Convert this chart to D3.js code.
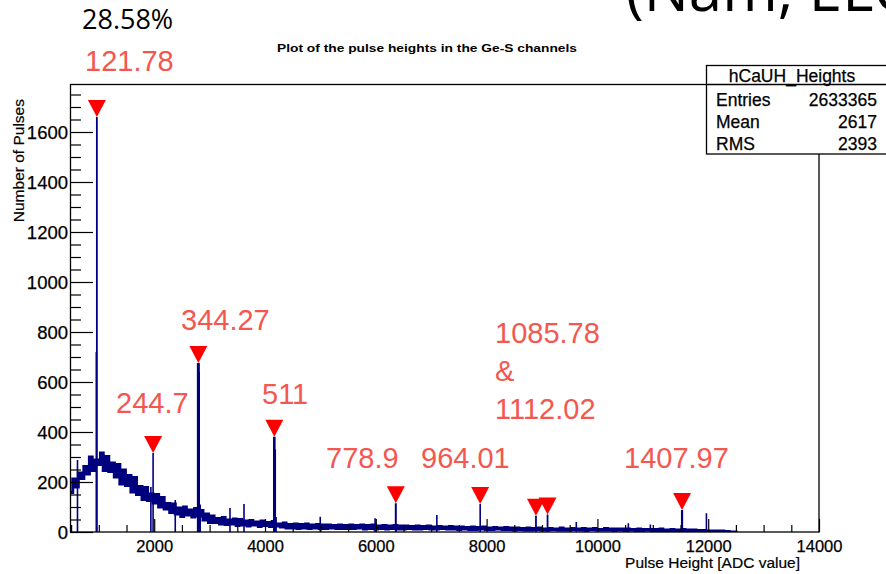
<!DOCTYPE html>
<html>
<head>
<meta charset="utf-8">
<script src="https://cdn.jsdelivr.net/npm/d3@7/dist/d3.min.js"></script>
<style>
  html, body { margin: 0; padding: 0; background: #fff; }
  svg { display: block; }
</style>
</head>
<body>
<svg id="chart" width="886" height="574"></svg>
<script>
// ---- Histogram data ------------------------------------------------------
// Continuum counts in 50-ADC bins, first bin starting at ADC 480
const binStart = 480;
const binWidth = 50;
const continuum = [
  158, 212, 180, 236, 214, 262, 232, 300, 246, 288, 270, 316, 246, 302, 242, 276, 220, 270, 192, 248,
  186, 226, 160, 218, 150, 182, 130, 178, 126, 152, 116, 150, 100, 138, 92, 114, 78, 112, 72, 96,
  62, 100, 68, 88, 60, 94, 64, 86, 48, 72, 38, 64, 38, 54, 32, 58, 30, 48, 32, 52,
  26, 50, 28, 44, 24, 46, 28, 40, 22, 44, 26, 38, 22, 42, 24, 32, 20, 36, 16, 30,
  16, 32, 14, 30, 16, 32, 14, 28, 16, 30, 14, 28, 14, 28, 16, 26, 14, 28, 14, 26,
  14, 28, 14, 26, 16, 28, 12, 26, 14, 28, 12, 24, 14, 26, 12, 24, 14, 26, 12, 24,
  12, 24, 14, 22, 12, 24, 12, 22, 14, 24, 12, 20, 12, 22, 14, 20, 12, 22, 12, 20,
  10, 20, 12, 18, 10, 20, 10, 18, 12, 20, 10, 16, 10, 18, 12, 16, 10, 18, 10, 16,
  8, 16, 10, 14, 8, 16, 8, 14, 10, 16, 8, 12, 8, 14, 10, 12, 8, 16, 8, 12,
  8, 14, 10, 12, 8, 14, 6, 12, 10, 14, 8, 10, 8, 14, 8, 12, 6, 12, 8, 12,
  6, 12, 8, 10, 4, 12, 6, 10, 8, 10, 4, 10, 6, 12, 4, 8, 6, 10, 4, 8,
  6, 10, 4, 8, 6, 8, 4, 6, 6, 4, 0, 4, 2, 4, 0, 4, 0, 2, 0, 0, 0
];

// Narrow line bins that stand out from the continuum (ADC, counts)
const lineAdc    = [615, 955, 1940, 2380, 2812, 2830, 3368, 3621, 4185, 4200, 4997, 5987, 7102, 9619, 10558, 10956, 11968];
const lineCounts = [288, 720, 180, 128, 640, 110, 96, 112, 330, 60, 61, 55, 68, 40, 35, 30, 75];

// Identified gamma lines: energy (keV) and peak bin (ADC, counts)
const peakEnergies = ["121.78", "244.7", "344.27", "511", "778.9", "964.01", "1085.78", "1112.02", "1407.97"];
const peakAdc      = [965, 1980, 2797, 4168, 6361, 7884, 8891, 9100, 11528];
const peakCounts   = [1660, 316, 676, 381, 115, 112, 65, 70, 88];

// Axes
const xMajorTicks = [2000, 4000, 6000, 8000, 10000, 12000, 14000];
const yMajorTicks = [0, 200, 400, 600, 800, 1000, 1200, 1400, 1600];

// Statistics box
const statsTitle = "hCaUH_Heights";
const statNames  = ["Entries", "Mean", "RMS"];
const statValues = ["2633365", "2617", "2393"];

// Texts
const plotTitle  = "Plot of the pulse heights in the Ge-S channels";
const xTitle     = "Pulse Height [ADC value]";
const yTitle     = "Number of Pulses";
const fraction   = "28.58%";
const heading    = "(Nam, ELC";

// ---- Layout ---------------------------------------------------------------
const W = 886, H = 574;
const frame = { left: 70, top: 85, right: 819, bottom: 532 };
const navy = "#00007f";
const salmon = "#f4574f";

// label anchors (left x, baseline y) for the energy annotations
const labelPos = [
  [85, 71], [116, 413], [181, 330], [262, 404], [326, 468], [421, 468],
  [495, 343], [495, 419], [624, 468]
];
// drawn width of each identified peak line
const peakStroke = [1.8, 1.6, 3, 2.6, 2, 1.6, 1.8, 1.8, 2.2];

const svg = d3.select("#chart");
svg.append("rect").attr("width", W).attr("height", H).attr("fill", "#fff");

const x = d3.scaleLinear().domain([480, 14000]).range([frame.left, frame.right]);
const y = d3.scaleLinear().domain([0, 1788]).range([frame.bottom, frame.top]);

svg.append("clipPath").attr("id", "plotclip")
  .append("rect")
  .attr("x", frame.left).attr("y", frame.top)
  .attr("width", frame.right - frame.left).attr("height", frame.bottom - frame.top);

const plot = svg.append("g").attr("clip-path", "url(#plotclip)");

// continuum as a step histogram; the stroke is wide enough that the
// bin-to-bin fluctuations merge into a solid band
const pts = continuum.map((v, i) => [binStart + i * binWidth, v]);
pts.push([binStart + continuum.length * binWidth, continuum[continuum.length - 1]]);
const stepLine = d3.line()
  .x(d => x(d[0]))
  .y(d => y(d[1]))
  .curve(d3.curveStepAfter);

plot.append("path")
  .attr("d", stepLine(pts))
  .attr("fill", "none")
  .attr("stroke", navy)
  .attr("stroke-width", 3)
  .attr("stroke-linejoin", "miter");

// narrow line bins
plot.selectAll("line.extra")
  .data(d3.zip(lineAdc, lineCounts))
  .join("line")
  .attr("class", "extra")
  .attr("x1", d => x(d[0])).attr("x2", d => x(d[0]))
  .attr("y1", y(0)).attr("y2", d => y(d[1]))
  .attr("stroke", navy).attr("stroke-width", 1.6);

// identified peaks
plot.selectAll("line.peak")
  .data(d3.zip(peakAdc, peakCounts))
  .join("line")
  .attr("class", "peak")
  .attr("x1", d => x(d[0])).attr("x2", d => x(d[0]))
  .attr("y1", y(0)).attr("y2", d => y(d[1]))
  .attr("stroke", navy).attr("stroke-width", (d, i) => peakStroke[i]);

// ---- Axes (ticks drawn inward) -------------------------------------------
const font = "'Liberation Sans', Arial, Helvetica, sans-serif";

const xMinor = d3.range(500, 14001, 500).filter(v => v % 2000 !== 0);
const gxMinor = svg.append("g")
  .attr("transform", `translate(0,${frame.bottom})`)
  .call(d3.axisBottom(x).tickValues(xMinor).tickSize(-7).tickFormat(""));
const gx = svg.append("g")
  .attr("transform", `translate(0,${frame.bottom})`)
  .call(d3.axisBottom(x).tickValues(xMajorTicks).tickSize(-13).tickFormat(d3.format("d")));
[gxMinor, gx].forEach(g => {
  g.select(".domain").remove();
  g.selectAll(".tick line").attr("stroke", "#000").attr("stroke-width", 1.2);
});
gx.selectAll(".tick text")
  .attr("y", 20).attr("dy", 0)
  .attr("font-family", font).attr("font-size", 16.5).attr("fill", "#000")
  .attr("stroke", "#000").attr("stroke-width", 0.25);

const yMinor = d3.range(50, 1788, 50).filter(v => v % 200 !== 0);
const gyMinor = svg.append("g")
  .attr("transform", `translate(${frame.left},0)`)
  .call(d3.axisLeft(y).tickValues(yMinor).tickSize(-11).tickFormat(""));
const gy = svg.append("g")
  .attr("transform", `translate(${frame.left},0)`)
  .call(d3.axisLeft(y).tickValues(yMajorTicks).tickSize(-23).tickFormat(d3.format("d")));
[gyMinor, gy].forEach(g => {
  g.select(".domain").remove();
  g.selectAll(".tick line").attr("stroke", "#000").attr("stroke-width", 1.2);
});
gy.selectAll(".tick text")
  .attr("x", -2).attr("dy", "0.36em")
  .attr("font-family", font).attr("font-size", 18.5).attr("fill", "#000")
  .attr("stroke", "#000").attr("stroke-width", 0.25);

// frame
svg.append("rect")
  .attr("x", frame.left + 0.5).attr("y", frame.top - 0.5)
  .attr("width", frame.right - frame.left - 0.5).attr("height", frame.bottom - frame.top + 0.5)
  .attr("fill", "none").attr("stroke", "#000").attr("stroke-width", 1.3);

// axis titles
svg.append("text")
  .attr("x", 800).attr("y", 568)
  .attr("text-anchor", "end")
  .attr("font-family", font).attr("font-size", 15.5)
  .attr("stroke", "#000").attr("stroke-width", 0.2)
  .text(xTitle);

svg.append("text")
  .attr("transform", "translate(24,99) rotate(-90)")
  .attr("text-anchor", "end")
  .attr("font-family", font).attr("font-size", 15.5)
  .attr("stroke", "#000").attr("stroke-width", 0.2)
  .text(yTitle);

// plot title
svg.append("text")
  .attr("x", 427).attr("y", 52)
  .attr("text-anchor", "middle")
  .attr("font-family", font).attr("font-size", 11.5).attr("font-weight", "bold")
  .attr("textLength", 300).attr("lengthAdjust", "spacingAndGlyphs")
  .text(plotTitle);

// ---- Peak markers and energy labels --------------------------------------
svg.selectAll("path.marker")
  .data(d3.zip(peakAdc, peakCounts))
  .join("path")
  .attr("class", "marker")
  .attr("d", "M-9,-17 L9,-17 L0,0 Z")
  .attr("transform", d => `translate(${x(d[0])},${y(d[1])})`)
  .attr("fill", "#ff0000");

svg.selectAll("text.energy")
  .data(peakEnergies.map((t, i) => ({ t, p: labelPos[i] })))
  .join("text")
  .attr("class", "energy")
  .attr("x", d => d.p[0]).attr("y", d => d.p[1])
  .attr("font-family", font).attr("font-size", 29)
  .attr("fill", salmon)
  .text(d => d.t);

svg.append("text")
  .attr("x", 495).attr("y", 381)
  .attr("font-family", font).attr("font-size", 29)
  .attr("fill", salmon)
  .text("&");

// ---- Statistics box ------------------------------------------------------
const box = svg.append("g");
box.append("rect")
  .attr("x", 706.5).attr("y", 65.5).attr("width", 200).attr("height", 88.5)
  .attr("fill", "#fff").attr("stroke", "#000").attr("stroke-width", 1.3);
box.append("line")
  .attr("x1", 706.5).attr("x2", 886).attr("y1", 84.5).attr("y2", 84.5)
  .attr("stroke", "#000").attr("stroke-width", 1.3);
const statFont = sel => sel
  .attr("font-family", font).attr("font-size", 17.5)
  .attr("stroke", "#000").attr("stroke-width", 0.25);
box.append("text")
  .attr("x", 792).attr("y", 82).attr("text-anchor", "middle")
  .call(statFont)
  .text(statsTitle);
statNames.forEach((n, i) => {
  box.append("text")
    .attr("x", 716).attr("y", 106 + i * 22)
    .call(statFont)
    .text(n);
  box.append("text")
    .attr("x", 877).attr("y", 106 + i * 22).attr("text-anchor", "end")
    .call(statFont)
    .text(statValues[i]);
});

// ---- Slide texts ---------------------------------------------------------
svg.append("text")
  .attr("x", 82).attr("y", 29)
  .attr("font-family", "'Open Sans', sans-serif").attr("font-size", 27)
  .attr("fill", "#000")
  .text(fraction);

svg.append("text")
  .attr("x", 626).attr("y", 11)
  .attr("font-family", "'Open Sans', sans-serif").attr("font-size", 60)
  .attr("fill", "#000")
  .text(heading);
</script>
</body>
</html>
